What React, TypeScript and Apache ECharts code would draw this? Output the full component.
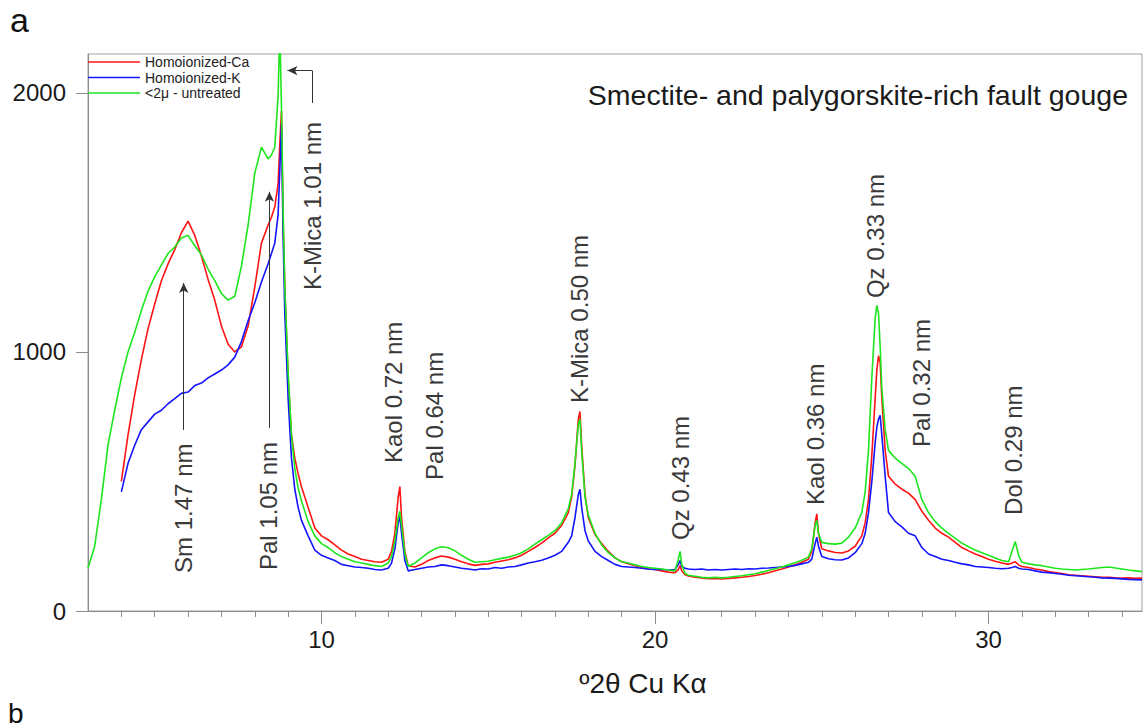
import React, { useEffect, useRef } from "react";
import * as echarts from "echarts";

// ---- data (°2θ grid and intensities) ----
const twoTheta = [
  3.0, 3.2, 3.4, 3.6, 3.8, 4.0, 4.2, 4.4, 4.6, 4.8, 5.0, 5.2, 5.4, 5.6, 5.8, 6.0, 6.2, 6.4, 6.6, 6.8, 7.0, 7.2, 7.4, 7.6, 7.8, 8.0, 8.2, 8.4,
  8.5, 8.6, 8.7, 8.75, 8.8, 8.85, 8.9, 9.0, 9.1, 9.2, 9.3, 9.4, 9.6, 9.8, 10.0,
  10.2, 10.4, 10.6, 10.8, 11.0, 11.2, 11.4, 11.6, 11.8, 12.0,
  12.1, 12.2, 12.3, 12.35, 12.4, 12.5, 12.6, 12.8, 13.0, 13.2, 13.4, 13.6, 13.8, 14.0, 14.2, 14.4, 14.6, 14.8,
  15.0, 15.2, 15.4, 15.6, 15.8, 16.0, 16.2, 16.4, 16.6, 16.8, 17.0, 17.2, 17.4,
  17.5, 17.6, 17.7, 17.75, 17.8, 17.9, 18.0, 18.2, 18.4, 18.6, 18.8, 19.0,
  19.2, 19.4, 19.6, 19.8, 20.0, 20.2, 20.4, 20.6,
  20.7, 20.75, 20.8, 20.9, 21.0,
  21.2, 21.4, 21.6, 21.8, 22.0, 22.2, 22.4, 22.6, 22.8, 23.0, 23.2, 23.4, 23.6, 23.8, 24.0, 24.2, 24.4, 24.6,
  24.7, 24.8, 24.85, 24.9, 25.0, 25.2, 25.4, 25.6, 25.8, 26.0, 26.2, 26.3, 26.4, 26.5, 26.6, 26.65, 26.7, 26.75, 26.8, 26.9, 27.0,
  27.2, 27.4, 27.6, 27.8, 28.0, 28.2, 28.4, 28.6, 28.8, 29.0, 29.2, 29.4, 29.6, 29.8, 30.0, 30.2, 30.4,
  30.6, 30.7, 30.8, 30.9, 31.0,
  31.2, 31.4, 31.6, 31.8, 32.0, 32.2, 32.4, 32.6, 32.8, 33.0, 33.2, 33.4, 33.6, 33.8, 34.0, 34.2, 34.4, 34.6,
];

const caValues = [
  null, null, null, null, null, 500, 680, 835, 970, 1090, 1185, 1275, 1340, 1395, 1460, 1505, 1450, 1370, 1280, 1200, 1100, 1030, 1000, 1020, 1100, 1250, 1420, 1490,
  1520, 1560, 1650, 1800, 1930, 1500, 1250, 900, 680, 590, 530, 480, 400, 320, 290,
  275, 255, 235, 220, 210, 200, 195, 190, 188, 200,
  230, 300, 440, 480, 360, 230, 175, 170, 180, 195, 205, 212, 208, 200, 190, 182, 176, 180,
  182, 188, 193, 198, 205, 215, 230, 245, 262, 282, 300, 330, 380,
  440, 560, 740, 770, 640, 450, 360, 295, 260, 230, 205, 190,
  182, 175, 168, 162, 160, 155, 150, 148,
  160, 175, 155, 140, 135,
  130, 128, 125, 126, 124, 126, 128, 130, 133, 137, 142, 148, 155, 162, 170, 178, 188, 200,
  230, 340, 375, 300, 240, 232, 226, 224, 232, 250, 290, 340, 430, 600, 820, 930, 985, 960, 820, 620, 520,
  490, 470, 455, 430, 385, 350, 320, 300, 285, 265, 245, 232, 220, 210, 200, 192, 185,
  180, 185, 190, 178, 172,
  168, 162, 158, 152, 148, 145, 140, 138, 136, 134, 132, 130, 130, 128, 127, 128, 126, 127,
];

const kValues = [
  null, null, null, null, null, 460, 570, 640, 700, 730, 760, 775, 800, 820, 840, 845, 870, 880, 900, 915, 930, 950, 980, 1040, 1120, 1190, 1270, 1340,
  1380, 1420, 1530, 1700, 1880, 1450, 1150, 820, 590, 470, 400, 350, 290, 235, 215,
  205, 195, 180, 175, 170, 168, 165, 160, 158, 165,
  185, 240, 340, 365, 300, 195, 155, 160, 165, 170, 172, 178, 175, 170, 165, 162, 158, 163,
  162, 168, 165, 170, 172, 178, 185, 190, 196, 205, 215, 230, 265,
  290, 360, 450, 470, 400, 310, 270, 230, 210, 195, 180, 172,
  170, 168, 165, 162, 160, 160, 158, 160,
  180, 195, 172, 165, 162,
  160, 162, 158, 160, 158, 160, 162, 160, 163, 162, 165, 166, 168, 170, 172, 176, 182, 188,
  200, 260, 285, 250, 210, 202, 198, 197, 205, 225, 260, 300, 380, 500, 650, 710, 740, 755, 680, 520, 380,
  345, 325, 300, 290, 245, 220, 210, 200, 195, 188, 182, 178, 172, 170, 168, 165, 163,
  165, 168, 172, 165, 162,
  160, 155, 150, 148, 145, 142, 138, 136, 134, 132, 130, 128, 127, 126, 124, 122, 121, 120,
];

const untreatedValues = [
  165, 250, 430, 640, 775, 900, 1000, 1075, 1160, 1235, 1290, 1335, 1380, 1405, 1440, 1450, 1410, 1375, 1320, 1275, 1225, 1200, 1215, 1330, 1490, 1690, 1790, 1745,
  1760, 1790, 1990, 2250, 1950, 1550, 1250, 920, 680, 550, 475, 425, 345, 290, 260,
  245, 225, 210, 200, 190, 185, 180, 175, 172, 185,
  210, 270, 360, 385, 330, 220, 172, 185, 205, 225, 240, 248, 244, 232, 215, 200, 188, 190,
  192, 198, 203, 208, 215, 225, 240, 258, 275, 292, 310, 340, 395,
  450, 570, 720, 740, 620, 440, 370, 300, 255, 225, 205, 190,
  185, 178, 172, 168, 165, 162, 158, 155,
  200, 230, 180, 145, 138,
  134, 130, 128, 130, 128, 130, 133, 136, 140, 144, 150, 156, 163, 170, 178, 186, 196, 208,
  240, 330, 350, 300, 265, 260, 258, 262, 285, 320, 380, 460, 620, 900, 1130, 1180, 1150, 1020, 860, 700, 620,
  590, 570, 550, 520, 430, 380, 345, 320, 300, 280, 262, 248, 235, 225, 215, 205, 195,
  190, 230, 268, 215, 188,
  182, 178, 175, 170, 165, 162, 160, 158, 160, 162, 165, 168, 170, 166, 162, 158, 155, 152,
];

const seriesNames = ["Homoionized-Ca", "Homoionized-K", "<2μ - untreated"];
const seriesColors = ["#ff1414", "#1414ff", "#1ee61e"];

const xMinorTicks = [4, 5, 6, 7, 8, 9, 10, 11, 12, 13, 14, 15, 16, 17, 18, 19, 20, 21, 22, 23, 24, 25, 26, 27, 28, 29, 30, 31, 32, 33, 34];
const xMajorTicks = [10, 20, 30];
const yTicks = [0, 1000, 2000];

// peak annotations: label, °2θ, intensity at the label's lower end
const peakLabels = [
  "Sm 1.47 nm", "Pal 1.05 nm", "K-Mica 1.01 nm", "Kaol 0.72 nm", "Pal 0.64 nm", "K-Mica 0.50 nm",
  "Qz 0.43 nm", "Kaol 0.36 nm", "Qz 0.33 nm", "Pal 0.32 nm", "Dol 0.29 nm",
];
const peakLabelX = [5.85, 8.41, 9.73, 12.15, 13.4, 17.75, 20.75, 24.8, 26.6, 28.0, 30.74];
const peakLabelY = [147, 158, 1239, 571, 506, 803, 274, 409, 1208, 633, 371];

// arrows: [from, to]
const arrowSegments = [
  [[5.87, 699], [5.87, 1266]],
  [[8.44, 707], [8.44, 1618]],
  [[9.72, 2086], [8.98, 2086]],
];
const elbowSegment = [[9.72, 1961], [9.72, 2086]];

const FONT = "'Liberation Sans', Arial, Helvetica, sans-serif";

function toPairs(values: (number | null)[]) {
  const out: number[][] = [];
  twoTheta.forEach((x, i) => {
    const v = values[i];
    if (v !== null && v !== undefined) out.push([x, v]);
  });
  return out;
}

export default function App() {
  const ref = useRef<HTMLDivElement>(null);

  useEffect(() => {
    if (!ref.current) return;
    const chart = echarts.init(ref.current, null, { renderer: "svg" });
    const allValues = [caValues, kValues, untreatedValues];

    const markLineData: any[] = arrowSegments.map((seg) => [
      { coord: seg[0], symbol: "none" },
      { coord: seg[1], symbol: "arrow" },
    ]);
    markLineData.push([
      { coord: elbowSegment[0], symbol: "none" },
      { coord: elbowSegment[1], symbol: "none" },
    ]);

    const series: any[] = seriesNames.map((name, i) => ({
      name,
      type: "line",
      data: toPairs(allValues[i]),
      showSymbol: false,
      symbol: "none",
      clip: true,
      lineStyle: { color: seriesColors[i], width: 1.6 },
      itemStyle: { color: seriesColors[i] },
      emphasis: { disabled: true },
      silent: true,
      z: 2 + i,
    }));
    series[2].markLine = {
      silent: true,
      symbolSize: [7, 10],
      label: { show: false },
      lineStyle: { color: "#333", width: 1, type: "solid" },
      emphasis: { disabled: true },
      data: markLineData,
    };

    const option: any = {
      animation: false,
      backgroundColor: "#ffffff",
      grid: {
        left: 88,
        right: 4,
        top: 54,
        bottom: 117,
        show: true,
        borderColor: "#a0a0a0",
        borderWidth: 1,
        backgroundColor: "transparent",
      },
      legend: {
        data: seriesNames.map((n) => ({ name: n, icon: "rect" })),
        orient: "vertical",
        left: 88,
        top: 55,
        padding: 0,
        itemGap: 1.5,
        itemWidth: 52,
        itemHeight: 1.5,
        selectedMode: false,
        textStyle: { fontFamily: FONT, fontSize: 14, lineHeight: 14, color: "#222" },
      },
      xAxis: [
        {
          type: "value",
          min: 3,
          max: 34.6,
          position: "bottom",
          axisLine: { show: true, lineStyle: { color: "#8c8c8c", width: 1 } },
          axisTick: { show: true, customValues: xMinorTicks, length: 6, lineStyle: { color: "#8c8c8c" } },
          axisLabel: {
            customValues: xMajorTicks,
            fontSize: 24,
            color: "#1a1a1a",
            margin: 16,
            fontFamily: FONT,
            formatter: (v: number) => String(v),
          },
          splitLine: { show: false },
        },
        {
          type: "value",
          min: 3,
          max: 34.6,
          position: "bottom",
          axisLine: { show: false },
          axisTick: { show: true, customValues: xMajorTicks, length: 13, lineStyle: { color: "#8c8c8c" } },
          axisLabel: { show: false },
          splitLine: { show: false },
        },
      ],
      yAxis: {
        type: "value",
        min: 0,
        max: 2150,
        axisLine: { show: true, lineStyle: { color: "#8c8c8c", width: 1 } },
        axisTick: { show: true, customValues: yTicks, length: 12, lineStyle: { color: "#8c8c8c" } },
        axisLabel: {
          customValues: yTicks,
          fontSize: 24,
          color: "#1a1a1a",
          margin: 22,
          fontFamily: FONT,
          formatter: (v: number) => String(v),
        },
        splitLine: { show: false },
      },
      series,
    };
    chart.setOption(option);

    const labelGraphics = peakLabels.map((t, i) => {
      const p = chart.convertToPixel({ xAxisIndex: 0, yAxisIndex: 0 }, [peakLabelX[i], peakLabelY[i]]) as number[];
      return {
        type: "text",
        x: p[0],
        y: p[1],
        rotation: Math.PI / 2,
        silent: true,
        style: { text: t, fill: "#3a3a3a", fontSize: 24, fontFamily: FONT, align: "left", verticalAlign: "middle" },
      };
    });

    chart.setOption({
      graphic: [
        ...labelGraphics,
        {
          type: "text",
          x: 10,
          y: 20,
          silent: true,
          style: { text: "a", fill: "#111", fontSize: 34, fontFamily: FONT, align: "left", verticalAlign: "middle" },
        },
        {
          type: "text",
          x: 1128,
          y: 95,
          silent: true,
          style: {
            text: "Smectite- and palygorskite-rich fault gouge",
            fill: "#1a1a1a",
            fontSize: 28.5,
            fontFamily: FONT,
            align: "right",
            verticalAlign: "middle",
          },
        },
        {
          type: "text",
          x: 643,
          y: 683,
          silent: true,
          style: { text: "º2θ Cu Kα", fill: "#1a1a1a", fontSize: 28, fontFamily: FONT, align: "center", verticalAlign: "middle" },
        },
        {
          type: "text",
          x: 8,
          y: 727,
          silent: true,
          style: { text: "b", fill: "#111", fontSize: 28, fontFamily: FONT, align: "left", verticalAlign: "bottom" },
        },
      ],
    });

    return () => {
      chart.dispose();
    };
  }, []);

  return (
    <div
      ref={ref}
      style={{ position: "absolute", left: 0, top: 0, width: 1146, height: 728, background: "#fff" }}
    />
  );
}
